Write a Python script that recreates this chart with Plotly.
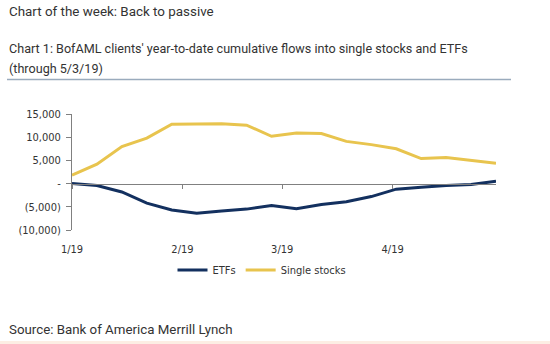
import plotly.graph_objects as go

dates = ["2019-01-01", "2019-01-08", "2019-01-15", "2019-01-22", "2019-01-29",
         "2019-02-05", "2019-02-12", "2019-02-19", "2019-02-26", "2019-03-05",
         "2019-03-12", "2019-03-19", "2019-03-26", "2019-04-02", "2019-04-09",
         "2019-04-16", "2019-04-23", "2019-04-30"]
etfs = [0, -400, -1800, -4200, -5700, -6400, -5900, -5500, -4700, -5400,
        -4500, -3900, -2800, -1200, -800, -400, -200, 500]
single_stocks = [1800, 4200, 8000, 9800, 12800, 12900, 12900, 12600, 10200, 10900,
                 10800, 9100, 8400, 7500, 5400, 5600, 5000, 4400]

x_tickvals = ["2019-01-01", "2019-02-01", "2019-03-01", "2019-04-01"]
x_ticktext = ["1/19", "2/19", "3/19", "4/19"]
y_tickvals = [15000, 10000, 5000, 0, -5000, -10000]
y_ticktext = ["15,000", "10,000", "5,000", "-", "(5,000)", "(10,000)"]

NARROW = "DejaVu Sans Condensed, Liberation Sans Narrow, Arial Narrow, Liberation Sans, sans-serif"
TXT = "Roboto, Arial, sans-serif"

W, H = 550, 344
L, R, T, B = 72, 54, 114, 114
pw, ph = W - L - R, H - T - B

def px(x):
    return (x - L) / pw

def py(y):
    return (H - B - y) / ph

fig = go.Figure()
fig.add_trace(go.Scatter(x=dates, y=etfs, name="ETFs", mode="lines",
                         line=dict(color="#13305f", width=3), xaxis="x2"))
fig.add_trace(go.Scatter(x=dates, y=single_stocks, name="Single stocks", mode="lines",
                         line=dict(color="#e8c44e", width=3)))

xr = ["2019-01-01", "2019-04-30"]
fig.update_layout(
    width=W, height=H,
    margin=dict(l=L, r=R, t=T, b=B),
    paper_bgcolor="white", plot_bgcolor="white",
    showlegend=True,
    legend=dict(orientation="h", x=px(262), y=py(270), xanchor="center", yanchor="middle",
                font=dict(family=NARROW, size=11, color="#333"), itemwidth=30,
                bgcolor="rgba(0,0,0,0)"),
    xaxis=dict(range=xr, type="date", tickvals=x_tickvals, ticktext=x_ticktext,
               showline=False, showgrid=False, zeroline=False,
               ticks="outside", ticklen=9, tickcolor="rgba(0,0,0,0)",
               tickfont=dict(family=NARROW, size=11, color="#333")),
    xaxis2=dict(range=xr, type="date", overlaying="x", anchor="free", position=0.4,
                tickvals=x_tickvals, showticklabels=False, showline=True,
                linecolor="#808080", linewidth=1, ticks="outside", ticklen=4,
                tickcolor="#808080", showgrid=False, zeroline=False),
    yaxis=dict(range=[-10000, 15000], tickvals=y_tickvals, ticktext=y_ticktext,
               showline=True, linecolor="#808080", linewidth=1, ticks="outside",
               ticklen=5, tickcolor="#808080", showgrid=False, zeroline=False,
               ticklabelstandoff=3,
               tickfont=dict(family=NARROW, size=11, color="#333")),
)

ann = [
    ("Chart of the week: Back to passive", 7, 11, 13.4),
    ("Chart 1: BofAML clients' year-to-date cumulative flows into single stocks and ETFs", 7, 48, 12.6),
    ("(through 5/3/19)", 7, 68, 12.6),
    ("Source: Bank of America Merrill Lynch", 7, 329, 13.3),
]
for text, x, y, s in ann:
    fig.add_annotation(text=text, x=px(x), y=py(y), xref="paper", yref="paper",
                       xanchor="left", yanchor="middle", showarrow=False,
                       font=dict(family=TXT, size=s, color="#333"))

fig.add_shape(type="line", xref="paper", yref="paper", x0=px(7), x1=px(511),
              y0=py(79.5), y1=py(79.5), line=dict(color="#9aabbd", width=1.5))
fig.add_shape(type="rect", xref="paper", yref="paper", x0=px(0), x1=px(550),
              y0=py(341), y1=py(344), line=dict(width=0), fillcolor="#fdeee4")

fig.write_html("out.html")
